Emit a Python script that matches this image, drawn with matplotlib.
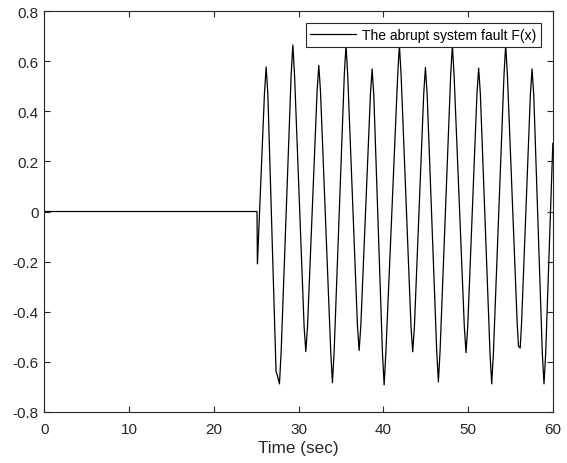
import matplotlib.pyplot as plt
import numpy as np

plt.rcParams['font.family'] = ['Liberation Sans', 'DejaVu Sans']

# before the fault: flat at zero, then the abrupt dip at t = 25 s
t_pre = [0, 25.1, 25.15]
f_pre = [0, 0, -0.209]

# oscillation after the fault
# (side, extremum, side) for each peak and trough
t_osc = [25.98, 26.18, 26.38,
         27.35, 27.47, 27.75, 27.95,
         29.13, 29.33, 29.53,
         30.66, 30.86, 31.06,
         32.19, 32.39, 32.59,
         33.80, 34.00, 34.20,
         35.40, 35.60, 35.80,
         36.95, 37.15, 37.35,
         38.48, 38.68, 38.88,
         39.90, 40.10, 40.30,
         41.70, 41.90, 42.10,
         43.27, 43.47, 43.67,
         44.77, 44.97, 45.17,
         46.30, 46.50, 46.70,
         47.95, 48.15, 48.35,
         49.56, 49.76, 49.96,
         51.05, 51.25, 51.45,
         52.59, 52.79, 52.99,
         54.24, 54.44, 54.64,
         55.80, 55.95, 56.15, 56.32,
         57.35, 57.55, 57.75,
         58.76, 58.96, 59.16,
         60.0]
f_osc = [0.47, 0.577, 0.47,
         -0.640, -0.650, -0.688, -0.56,
         0.545, 0.665, 0.545,
         -0.46, -0.559, -0.46,
         0.48, 0.583, 0.48,
         -0.56, -0.683, -0.56,
         0.545, 0.665, 0.545,
         -0.455, -0.555, -0.455,
         0.465, 0.569, 0.465,
         -0.565, -0.692, -0.565,
         0.545, 0.665, 0.545,
         -0.46, -0.560, -0.46,
         0.47, 0.575, 0.47,
         -0.555, -0.680, -0.555,
         0.545, 0.665, 0.545,
         -0.46, -0.563, -0.46,
         0.47, 0.572, 0.47,
         -0.565, -0.688, -0.565,
         0.545, 0.665, 0.545,
         -0.45, -0.538, -0.545, -0.44,
         0.465, 0.569, 0.465,
         -0.565, -0.688, -0.565,
         0.272]

t = np.array(t_pre + t_osc)
f = np.array(f_pre + f_osc)

fig = plt.figure(figsize=(5.67, 4.64), dpi=100)
ax = fig.add_axes([0.078, 0.110, 0.897, 0.864])

ax.plot(t, f, color='black', lw=0.9, label='The abrupt system fault F(x)')

ax.set_xlim(0, 60)
ax.set_ylim(-0.8, 0.8)
ax.set_xticks(np.arange(0, 61, 10))
ax.set_yticks(np.arange(-0.8, 0.81, 0.2))
ax.set_yticklabels(['-0.8', '-0.6', '-0.4', '-0.2', '0', '0.2', '0.4', '0.6', '0.8'])

axcol = '#262626'
for s in ax.spines.values():
    s.set_color(axcol)
    s.set_linewidth(0.8)
ax.tick_params(direction='in', top=True, right=True, length=4, width=0.8,
               color=axcol, labelcolor=axcol, labelsize=11)
ax.tick_params(axis='x', pad=7)
ax.tick_params(axis='y', pad=4)
ax.set_xlabel('Time (sec)', fontsize=12.3, color=axcol, labelpad=3)

leg = ax.legend(loc='upper right', fontsize=10, fancybox=False, framealpha=1,
                edgecolor=axcol, borderaxespad=0.86, handlelength=3.3,
                borderpad=0.35, handletextpad=0.4)
leg.get_frame().set_linewidth(0.8)

fig.savefig('out.png', dpi=100)
